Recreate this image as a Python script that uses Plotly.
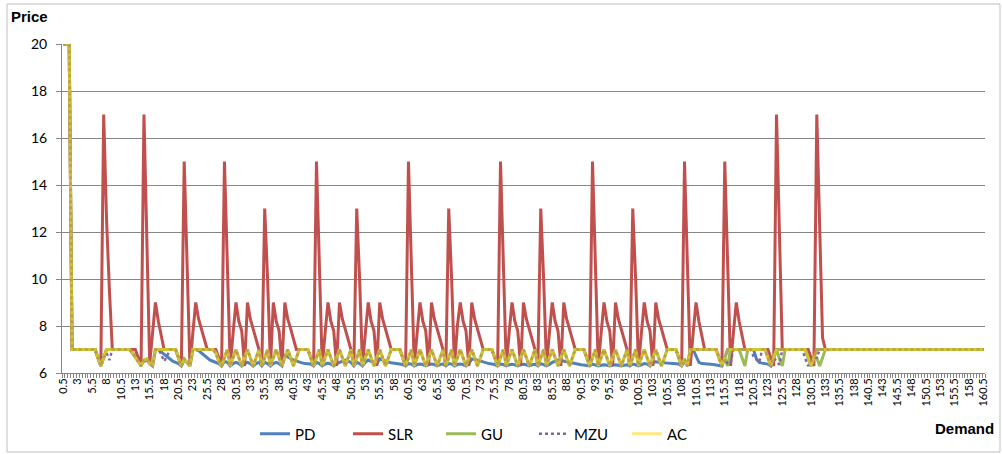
import plotly.graph_objects as go

# ---------------- data ----------------
# Demand categories 0.5, 1.0, ... 160.5 (321 categories)
DEMAND = [0.5 + 0.5 * k for k in range(321)]
TICK_VALS = DEMAND[::5]
TICK_LABELS = [f"{v:g}" for v in TICK_VALS]

SLR = (
    [20, 20, 20, 7, 7, 7, 7, 7, 7, 7, 7, 7, 6.65, 6.3]
    + [17, 12.5, 9.5, 7, 7, 7, 7, 7, 7, 7, 7, 7, 6.65, 6.3]
    + [17, 11.5, 6.4, 7.7, 9, 8.2, 7.6, 7, 7, 7, 7, 7, 6.65, 6.3]
    + [15, 10, 6.3, 7.7, 9, 8.3, 7.9, 7.4, 7, 7, 7, 7, 6.65, 6.3]
    + [15, 10.5, 6.3, 7.7, 9, 8.2, 7.8, 6.3, 9, 8.3, 7.9, 7.4, 7, 6.3]
    + [13, 10, 6.3, 9, 8.2, 7.8, 6.3, 9, 8.3, 7.9, 7.4, 7, 7, 7, 7, 7, 6.65, 6.3]
    + [15, 10.5, 6.3, 7.7, 9, 8.2, 7.8, 6.3, 9, 8.3, 7.9, 7.4, 7, 6.3]
    + [13, 10, 6.3, 7.7, 9, 8.2, 7.8, 6.3, 9, 8.3, 7.9, 7.4, 7, 7, 7, 7, 6.65, 6.3]
    + [15, 10.5, 6.3, 7.7, 9, 8.2, 7.8, 6.3, 9, 8.3, 7.9, 7.4, 7, 6.3]
    + [13, 10, 6.3, 8, 9, 8.2, 7.8, 6.3, 9, 8.3, 7.9, 7.4, 7, 7, 7, 7, 6.65, 6.3]
    + [15, 10.5, 6.3, 7.7, 9, 8.2, 7.8, 6.3, 9, 8.3, 7.9, 7.4, 7, 6.3]
    + [13, 10, 6.3, 7.7, 9, 8.2, 7.8, 6.3, 9, 8.3, 7.9, 7.4, 7, 7, 7, 7, 6.65, 6.3]
    + [15, 10.5, 6.3, 7.7, 9, 8.2, 7.8, 6.3, 9, 8.3, 7.9, 7.4, 7, 6.3]
    + [13, 10, 6.3, 7.7, 9, 8.2, 7.8, 6.3, 9, 8.3, 7.9, 7.4, 7, 7, 7, 7, 6.65, 6.3]
    + [15, 10.5, 6.3, 7.7, 9, 8.2, 7.6, 7, 7, 7, 7, 7, 6.65, 6.3]
    + [15, 10.5, 6.3, 7.7, 9, 8.2, 7.6, 7, 7, 7, 7, 7, 7, 7, 7, 7, 6.65, 6.3]
    + [17, 11.5, 7, 7, 7, 7, 7, 7, 7, 7, 7, 7, 6.65, 6.3]
    + [17, 12, 7.5] + [7] * 56
)

GU = (
    [20, 20, 20, 7, 7, 7, 7, 7, 7, 7, 7, 7, 6.65, 6.3]
    + [6.65, 7, 7, 7, 7, 7, 7, 7, 7, 7, 6.85, 6.65, 6.5, 6.3]
    + [6.55, 6.6, 6.4, 6.3, 7, 7, 7, 7, 7, 7, 7, 7, 6.65, 6.3]
    + [6.6, 6.45, 6.3, 7, 7, 7, 7, 7, 7, 7, 7, 6.85, 6.5, 6.3]
    + [6.65, 7, 6.3, 6.65, 7, 6.65, 6.3, 6.65, 7, 6.65, 6.3, 6.65, 7, 6.3]
    + [6.65, 7, 6.3, 6.65, 7, 6.65, 6.3, 6.65, 7, 6.65, 6.3, 6.65, 7, 7, 7, 7, 6.65, 6.3]
    + [6.65, 7, 6.3, 6.65, 7, 6.65, 6.3, 6.65, 7, 6.65, 6.3, 6.65, 7, 6.3]
    + [6.65, 7, 6.3, 6.65, 7, 6.65, 6.3, 6.65, 7, 6.65, 6.3, 6.65, 7, 7, 7, 7, 6.65, 6.3]
    + [6.65, 7, 6.3, 6.65, 7, 6.65, 6.3, 6.65, 7, 6.65, 6.3, 6.65, 7, 6.3]
    + [6.65, 7, 6.3, 6.65, 7, 6.65, 6.3, 6.65, 7, 6.65, 6.3, 6.65, 7, 7, 7, 7, 6.65, 6.3]
    + [6.65, 7, 6.3, 6.65, 7, 6.65, 6.3, 6.65, 7, 6.65, 6.3, 6.65, 7, 6.3]
    + [6.65, 7, 6.3, 6.65, 7, 6.65, 6.3, 6.65, 7, 6.65, 6.3, 6.65, 7, 7, 7, 7, 6.65, 6.3]
    + [6.65, 7, 6.3, 6.65, 7, 6.65, 6.3, 6.65, 7, 6.65, 6.3, 6.65, 7, 6.3]
    + [6.65, 7, 6.3, 6.65, 7, 6.65, 6.3, 6.65, 7, 6.65, 6.3, 6.65, 7, 7, 7, 7, 6.65, 6.3]
    + [6.6, 6.3, 7, 7, 7, 7, 7, 7, 7, 7, 7, 7, 6.65, 6.3]
    + [6.65, 6.3, 7, 7, 7, 7, 6.65, 6.3, 7, 7, 7, 7, 7, 7, 7, 6.65, 6.3, 6.65]
    + [7, 6.6, 6.3, 7, 7, 7, 7, 7, 7, 7, 7, 6.65, 6.3, 6.65]
    + [6.65, 6.3, 6.65] + [7] * 56
)

MZU = (
    [20, 20, 20, 7, 7, 7, 7, 7, 7, 7, 7, 7, 6.65, 6.3]
    + [6.65, 6.85, 6.55, 7, 7, 7, 7, 7, 7, 7, 6.85, 6.65, 6.5, 6.3]
    + [6.55, 6.6, 6.4, 6.3, 7, 7, 6.8, 6.5, 6.7, 7, 7, 7, 6.65, 6.3]
    + [6.6, 6.45, 6.3, 7, 7, 7, 7, 7, 7, 7, 7, 6.85, 6.5, 6.3]
    + [6.65, 7, 6.3, 6.65, 7, 6.65, 6.3, 6.65, 7, 6.65, 6.3, 6.65, 7, 6.3]
    + [6.65, 7, 6.3, 6.65, 7, 6.65, 6.3, 6.65, 7, 6.65, 6.3, 6.65, 7, 7, 7, 7, 6.65, 6.3]
    + [6.65, 7, 6.3, 6.65, 7, 6.65, 6.3, 6.65, 7, 6.65, 6.3, 6.65, 7, 6.3]
    + [6.65, 7, 6.3, 6.65, 7, 6.65, 6.3, 6.65, 7, 6.65, 6.3, 6.65, 7, 7, 7, 7, 6.65, 6.3]
    + [6.65, 7, 6.3, 6.65, 7, 6.65, 6.3, 6.65, 7, 6.65, 6.3, 6.65, 7, 6.3]
    + [6.65, 7, 6.3, 6.65, 7, 6.65, 6.3, 6.65, 7, 6.65, 6.3, 6.65, 7, 7, 7, 7, 6.65, 6.3]
    + [6.65, 7, 6.3, 6.65, 7, 6.65, 6.3, 6.65, 7, 6.65, 6.3, 6.65, 7, 6.3]
    + [6.65, 7, 6.3, 6.65, 7, 6.65, 6.3, 6.65, 7, 6.65, 6.3, 6.65, 7, 7, 7, 7, 6.65, 6.3]
    + [6.65, 7, 6.3, 6.65, 7, 6.65, 6.3, 6.65, 7, 6.65, 6.3, 6.65, 7, 6.3]
    + [6.65, 7, 6.3, 6.65, 7, 6.65, 6.3, 6.65, 7, 6.65, 6.3, 6.65, 7, 7, 7, 7, 6.65, 6.3]
    + [6.6, 6.3, 7, 7, 7, 7, 7, 7, 7, 7, 7, 7, 6.65, 6.3]
    + [6.6, 6.4, 6.4, 7, 7, 7, 7, 7, 7, 7, 6.7, 6.55, 6.45, 7, 7, 6.65, 6.3, 6.65]
    + [6.5, 6.35, 7, 7, 7, 7, 7, 7, 7, 7, 6.6, 6.3, 6.5, 6.65]
    + [6.65] + [7] * 58
)

AC = (
    [20, 20, 20, 7, 7, 7, 7, 7, 7, 7, 7, 7, 6.65, 6.3]
    + [6.65, 7, 7, 7, 7, 7, 7, 7, 7, 7, 6.85, 6.65, 6.5, 6.3]
    + [6.55, 6.6, 6.4, 6.3, 7, 7, 7, 7, 7, 7, 7, 7, 6.65, 6.3]
    + [6.6, 6.45, 6.3, 7, 7, 7, 7, 7, 7, 7, 7, 6.85, 6.5, 6.3]
    + [6.65, 7, 6.3, 6.65, 7, 6.65, 6.3, 6.65, 7, 6.65, 6.3, 6.65, 7, 6.3]
    + [6.65, 7, 6.3, 6.65, 7, 6.65, 6.3, 6.65, 7, 6.65, 6.3, 6.65, 7, 7, 7, 7, 6.65, 6.3]
    + [6.65, 7, 6.3, 6.65, 7, 6.65, 6.3, 6.65, 7, 6.65, 6.3, 6.65, 7, 6.3]
    + [6.65, 7, 6.3, 6.65, 7, 6.65, 6.3, 6.65, 7, 6.65, 6.3, 6.65, 7, 7, 7, 7, 6.65, 6.3]
    + [6.65, 7, 6.3, 6.65, 7, 6.65, 6.3, 6.65, 7, 6.65, 6.3, 6.65, 7, 6.3]
    + [6.65, 7, 6.3, 6.65, 7, 6.65, 6.3, 6.65, 7, 6.65, 6.3, 6.65, 7, 7, 7, 7, 6.65, 6.3]
    + [6.65, 7, 6.3, 6.65, 7, 6.65, 6.3, 6.65, 7, 6.65, 6.3, 6.65, 7, 6.3]
    + [6.65, 7, 6.3, 6.65, 7, 6.65, 6.3, 6.65, 7, 6.65, 6.3, 6.65, 7, 7, 7, 7, 6.65, 6.3]
    + [6.65, 7, 6.3, 6.65, 7, 6.65, 6.3, 6.65, 7, 6.65, 6.3, 6.65, 7, 6.3]
    + [6.65, 7, 6.3, 6.65, 7, 6.65, 6.3, 6.65, 7, 6.65, 6.3, 6.65, 7, 7, 7, 7, 6.65, 6.3]
    + [6.6, 6.3, 7, 7, 7, 7, 7, 7, 7, 7, 7, 7, 6.65, 6.3]
    + [6.65, 7, 7, 7, 7, 7, 7, 7, 7, 7, 7, 7, 7, 7, 7, 6.65, 6.3, 6.65]
    + [7, 7, 7, 7, 7, 7, 7, 7, 7, 7, 7, 6.65, 6.3, 6.65]
    + [7] * 59
)

PD = (
    [20, 20, 20, 7, 7, 7, 7, 7, 7, 7, 7, 7, 6.65, 6.3]
    + [6.65, 7, 7, 7, 7, 7, 7, 7, 7, 7, 6.85, 6.7, 6.5, 6.35]
    + [6.5, 6.55, 6.4, 6.3, 7, 7, 6.9, 6.8, 6.7, 6.6, 6.5, 6.45, 6.4, 6.3]
    + [6.55, 6.45, 6.3, 7, 7, 6.95, 6.85, 6.75, 6.65, 6.55, 6.5, 6.45, 6.4, 6.3]
    + [6.5, 6.45, 6.3, 6.4, 6.45, 6.4, 6.3, 6.4, 6.45, 6.4, 6.3, 6.4, 6.45, 6.3]
    + [6.45, 6.4, 6.3, 6.4, 6.45, 6.4, 6.3, 6.75, 6.7, 6.62, 6.55, 6.5, 6.46, 6.43, 6.4, 6.4, 6.38, 6.3]
    + [6.45, 6.4, 6.3, 6.38, 6.42, 6.38, 6.3, 6.4, 6.45, 6.5, 6.55, 6.5, 6.45, 6.3]
    + [6.45, 6.4, 6.3, 6.45, 6.55, 6.5, 6.45, 6.4, 6.6, 6.55, 6.5, 6.47, 6.44, 6.42, 6.4, 6.38, 6.36, 6.3]
    + [6.4, 6.38, 6.3, 6.36, 6.38, 6.36, 6.3, 6.36, 6.38, 6.36, 6.3, 6.36, 6.38, 6.3]
    + [6.4, 6.38, 6.3, 6.36, 6.38, 6.36, 6.3, 6.4, 6.6, 6.58, 6.54, 6.5, 6.46, 6.43, 6.4, 6.38, 6.36, 6.3]
    + [6.38, 6.36, 6.3, 6.35, 6.37, 6.35, 6.3, 6.35, 6.37, 6.35, 6.3, 6.35, 6.37, 6.3]
    + [6.4, 6.36, 6.3, 6.36, 6.45, 6.5, 6.55, 6.53, 6.5, 6.47, 6.44, 6.41, 6.38, 6.36, 6.35, 6.34, 6.33, 6.3]
    + [6.38, 6.35, 6.3, 6.33, 6.35, 6.33, 6.3, 6.33, 6.35, 6.33, 6.3, 6.33, 6.35, 6.3]
    + [6.38, 6.35, 6.3, 6.35, 6.4, 6.38, 6.3, 6.45, 6.48, 6.46, 6.44, 6.43, 6.42, 6.41, 6.4, 6.4, 6.38, 6.3]
    + [6.5, 6.3, 7, 7, 6.7, 6.45, 6.4, 6.4, 6.38, 6.37, 6.36, 6.35, 6.33, 6.3]
    + [6.65, 7, 7, 7, 7, 7, 7, 7, 7, 7, 7, 6.6, 6.45, 6.42, 6.4, 6.38, 6.3, 6.65]
    + [7, 7, 7, 7, 7, 7, 7, 7, 7, 7, 7, 6.65, 6.3, 6.65]
    + [7] * 59
)

for _s in (PD, SLR, GU, MZU, AC):
    assert len(_s) == len(DEMAND), len(_s)

# ---------------- figure ----------------
fig = go.Figure()
series = [
    ("PD", PD, dict(color="#4F81BD", width=3), 1.0),
    ("SLR", SLR, dict(color="#C0504D", width=3), 1.0),
    ("GU", GU, dict(color="#9BBB59", width=3), 1.0),
    ("MZU", MZU, dict(color="#8064A2", width=2.4, dash="dot"), 1.0),
    ("AC", AC, dict(color="#FFD200", width=3), 0.5),
]
for name, ys, line, op in series:
    fig.add_trace(go.Scatter(x=DEMAND, y=ys, mode="lines", name=name,
                             line=line, opacity=op, hoverinfo="skip"))

GRID = "#868686"
fig.update_layout(
    width=1002, height=454,
    margin=dict(l=62, r=17, t=44, b=81, autoexpand=False),
    paper_bgcolor="white", plot_bgcolor="white",
    font=dict(family="Lato, 'Open Sans', sans-serif", color="black"),
    legend=dict(orientation="h", x=(255 - 62) / 923, xanchor="left",
                y=(373 - 434) / 329, yanchor="middle", font=dict(size=15),
                entrywidth=48, entrywidthmode="pixels",
                bgcolor="rgba(0,0,0,0)"),
    xaxis=dict(range=[0.25, 160.75], tickmode="array", tickvals=TICK_VALS,
               ticktext=TICK_LABELS, tickangle=-90, ticks="",
               tickfont=dict(size=11), showgrid=False, zeroline=False,
               showline=True, linecolor=GRID, linewidth=1, automargin=False,
               minor=dict(ticks="outside", ticklen=4, tickcolor=GRID,
                          tickmode="linear", tick0=0.25, dtick=0.5,
                          showgrid=False)),
    yaxis=dict(range=[6, 20], tickmode="linear", tick0=6, dtick=2,
               showgrid=True, gridcolor=GRID, gridwidth=1, zeroline=False,
               showline=True, linecolor=GRID, linewidth=1, automargin=False,
               ticks="outside", ticklen=5, tickcolor=GRID,
               tickfont=dict(size=14), ticklabelstandoff=6),
    annotations=[
        dict(text="<b>Price</b>", xref="paper", yref="paper",
             x=(9 - 62) / 923, y=(373 - 17) / 329, xanchor="left",
             yanchor="middle", showarrow=False,
             font=dict(family="'Liberation Sans', Arial", size=15)),
        dict(text="<b>Demand</b>", xref="paper", yref="paper",
             x=(996 - 62) / 923, y=(373 - 428) / 329, xanchor="right",
             yanchor="middle", showarrow=False,
             font=dict(family="'Liberation Sans', Arial", size=15)),
    ],
    shapes=[dict(type="rect", xref="paper", yref="paper",
                 x0=(7 - 62) / 923, x1=(1000 - 62) / 923,
                 y0=(373 - 452) / 329, y1=(373 - 4) / 329,
                 line=dict(color="#BFBFBF", width=1), layer="below")],
)

fig.write_html(
    "out.html",
    config={"displayModeBar": False},
    post_script="document.body.style.margin='0';document.body.style.overflow='hidden';",
)
